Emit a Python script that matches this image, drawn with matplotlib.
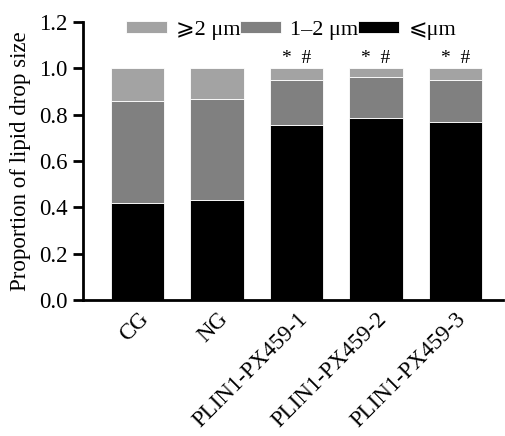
import matplotlib
matplotlib.use("Agg")
import matplotlib.pyplot as plt
import numpy as np

categories = ["CG", "NG", "PLIN1-PX459-1", "PLIN1-PX459-2", "PLIN1-PX459-3"]
small = [0.417, 0.432, 0.755, 0.786, 0.766]      # <= um
mid = [0.441, 0.437, 0.193, 0.174, 0.184]        # 1-2 um
large = [0.142, 0.131, 0.052, 0.040, 0.050]      # >= 2 um
marks = ["", "", "*  #", "*  #", "*  #"]
yticks = [0.0, 0.2, 0.4, 0.6, 0.8, 1.0, 1.2]

plt.rcParams['font.family'] = ['Liberation Serif', 'DejaVu Sans']
plt.rcParams['mathtext.fontset'] = 'stix'

fig = plt.figure(figsize=(5.05, 4.36), dpi=100)
ax = fig.add_axes([0.164, 0.312, 0.832, 0.638])

x = np.arange(len(categories))
w = 0.67
s = np.array(small)
m = np.array(mid)
l = np.array(large)
b1 = ax.bar(x, s, w, color='#000000', edgecolor='white', linewidth=0.6, label='⩽μm')
b2 = ax.bar(x, m, w, bottom=s, color='#808080', edgecolor='white', linewidth=0.6, label='1–2 μm')
b3 = ax.bar(x, l, w, bottom=s + m, color='#a3a3a3', edgecolor='white', linewidth=0.6, label='⩾2 μm')

for xi, t, tot in zip(x, marks, s + m + l):
    if t:
        ax.text(xi, tot + 0.04, t, ha='center', va='center', fontsize=14)

ax.set_xlim(-0.69, 4.6)
ax.set_ylim(0, 1.2)
ax.set_yticks(yticks)
ax.set_yticklabels([f"{v:.1f}" for v in yticks], fontsize=16.5)
ax.set_xticks(x)
ax.set_xticklabels(categories, rotation=45, ha='right', rotation_mode='anchor', fontsize=16.5)
ax.tick_params(axis='x', length=0, pad=6)
ax.tick_params(axis='y', length=7, width=2, direction='out', pad=4)
for sp in ['top', 'right']:
    ax.spines[sp].set_visible(False)
for sp in ['left', 'bottom']:
    ax.spines[sp].set_linewidth(2)
ax.set_ylabel("Proportion of lipid drop size", fontsize=16.5, labelpad=6)

ax.legend(handles=[b3, b2, b1], ncol=3, loc='center', bbox_to_anchor=(0.495, 0.97),
          frameon=False, fontsize=16, handlelength=1.85, handleheight=0.5,
          columnspacing=0.0, handletextpad=0.4, borderaxespad=0)

fig.savefig("out.png", dpi=100)
